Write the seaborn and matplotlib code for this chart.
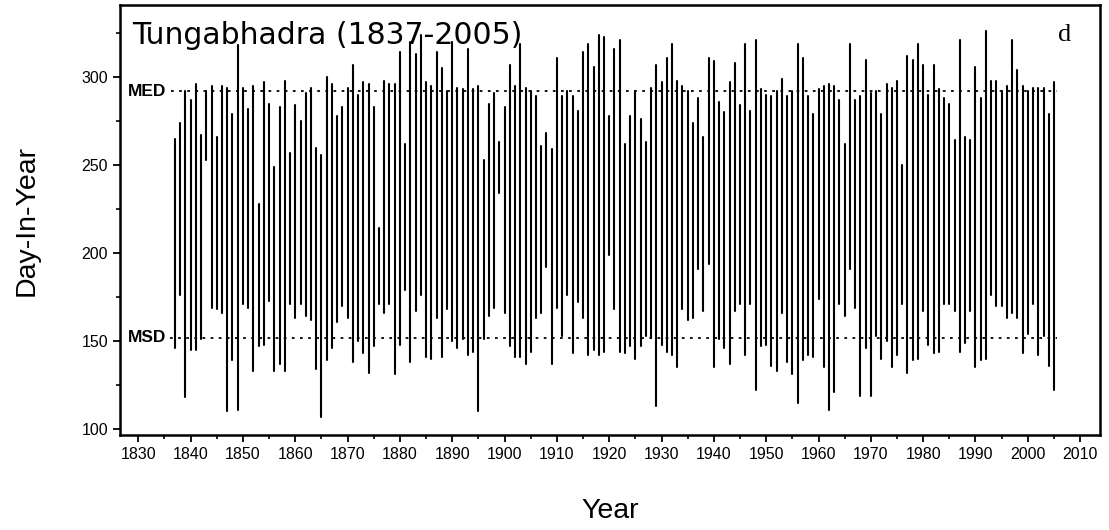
import numpy as np
import pandas as pd
import matplotlib
matplotlib.use("Agg")
import matplotlib.pyplot as plt
import seaborn as sns

# Annual flow season on the Tungabhadra: start and end day-in-year per year
years = list(range(1837, 2006))
start_day = [
    146, 176, 118, 145, 145, 151, 253, 169, 168, 166, 110, 139, 111,
    171, 169, 133, 147, 148, 173, 133, 137, 133, 171, 163, 171, 164, 162,
    134, 107, 139, 146, 161, 170, 163, 138, 150, 143, 132, 147, 171, 166,
    171, 131, 148, 179, 138, 167, 176, 141, 140, 163, 141, 168, 150, 146,
    151, 142, 144, 110, 151, 164, 169, 234, 166, 147, 141, 141, 137, 144,
    163, 166, 192, 137, 169, 153, 176, 143, 172, 163, 142, 145, 142, 144,
    199, 168, 144, 143, 147, 140, 147, 153, 152, 113, 148, 144, 142, 135,
    168, 162, 163, 191, 167, 194, 135, 151, 146, 137, 167, 171, 142, 171,
    122, 147, 148, 136, 133, 166, 138, 131, 115, 139, 142, 141, 174, 135,
    111, 121, 171, 164, 191, 169, 119, 146, 119, 153, 140, 150, 135, 142,
    171, 132, 139, 140, 167, 148, 143, 144, 171, 171, 167, 144, 149, 167,
    135, 139, 140, 176, 170, 170, 163, 166, 163, 143, 154, 171, 142, 153,
    136, 122,
]
end_day = [
    265, 274, 292, 287, 296, 267, 292, 295, 266, 295, 294, 279, 318,
    294, 282, 295, 228, 297, 285, 249, 283, 298, 257, 284, 275, 291, 294,
    260, 256, 300, 296, 278, 283, 294, 307, 290, 297, 296, 283, 214, 298,
    296, 296, 314, 262, 320, 313, 324, 297, 295, 314, 305, 292, 320, 294,
    293, 316, 293, 295, 253, 285, 291, 263, 283, 307, 295, 319, 294, 292,
    289, 261, 268, 259, 311, 289, 292, 289, 281, 314, 319, 306, 324, 323,
    278, 316, 321, 262, 278, 292, 276, 263, 294, 307, 297, 311, 319, 298,
    295, 292, 274, 288, 266, 311, 309, 286, 280, 297, 308, 284, 319, 281,
    321, 293, 290, 289, 292, 299, 289, 292, 319, 311, 289, 279, 293, 295,
    296, 295, 287, 262, 319, 287, 289, 310, 291, 292, 279, 296, 294, 298,
    250, 312, 310, 319, 307, 290, 307, 293, 288, 285, 264, 321, 266, 264,
    306, 288, 326, 298, 298, 292, 295, 321, 304, 295, 292, 294, 294, 294,
    279, 297,
]
med_day = 292
msd_day = 152
x_ticks = list(range(1830, 2011, 10))
y_ticks = [100, 150, 200, 250, 300]

# long form: one start row and one end row per year, drawn as a segment
df = pd.DataFrame({
    "Year": years + years,
    "Day": start_day + end_day,
})

sns.set_style("ticks")
plt.rcParams["font.family"] = ["Liberation Sans", "DejaVu Sans"]
for key in ("text.color", "axes.labelcolor", "xtick.color", "ytick.color",
            "axes.edgecolor"):
    plt.rcParams[key] = "black"

fig = plt.figure(figsize=(11.09, 5.30), dpi=100)
ax = fig.add_axes([0.1082, 0.1792, 0.8837, 0.8114])

sns.lineplot(data=df, x="Year", y="Day", units="Year", estimator=None,
             color="black", linewidth=1.5, sort=False, ax=ax, legend=False)

# mean end / mean start reference lines
x1 = 2005.6
dots = (0, (1.5, 3.0))
ax.hlines(med_day, 1836.3, x1, colors="black", linestyles=dots, linewidth=1.3)
ax.hlines(msd_day, 1836.0, x1, colors="black", linestyles=dots, linewidth=1.3)
ax.text(1828.0, med_day, "MED", fontsize=12.5, fontweight="bold",
        ha="left", va="center")
ax.text(1828.0, msd_day, "MSD", fontsize=12.5, fontweight="bold",
        ha="left", va="center")

ax.text(0.012, 0.962, "Tungabhadra (1837-2005)", transform=ax.transAxes,
        fontsize=21.5, family="DejaVu Sans", ha="left", va="top")
ax.text(0.957, 0.955, "d", transform=ax.transAxes, fontsize=19,
        family="Liberation Serif", ha="left", va="top")

ax.set_xlim(1826.5, 2013.8)
ax.set_ylim(96.6, 341)
ax.set_xticks(x_ticks)
ax.set_xticks(np.arange(1835, 2010, 10), minor=True)
ax.set_yticks(y_ticks)
ax.set_yticks([125, 175, 225, 275, 325], minor=True)
ax.tick_params(axis="both", which="major", labelsize=11.5, length=5,
               width=1.3, direction="out", color="black")
ax.tick_params(axis="both", which="minor", length=3, width=1.2,
               direction="out", color="black")

for spine in ax.spines.values():
    spine.set_visible(True)
    spine.set_linewidth(1.8)
    spine.set_color("black")

ax.set_xlabel("Year", fontsize=20.5, labelpad=26)
ax.set_ylabel("Day-In-Year", fontsize=20.5, labelpad=30)

fig.savefig("out.png", dpi=100)
